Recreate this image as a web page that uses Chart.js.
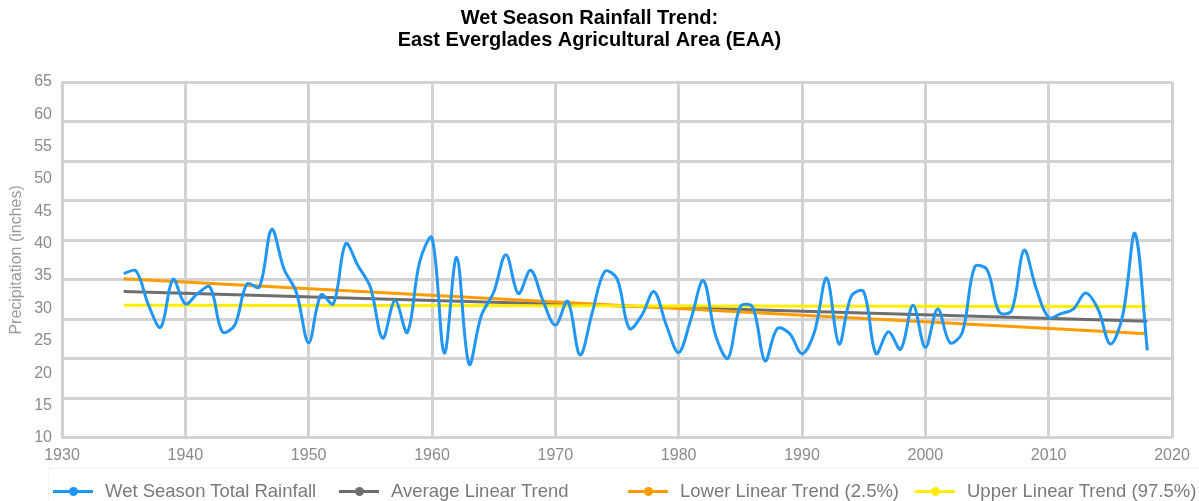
<!DOCTYPE html>
<html>
<head>
<meta charset="utf-8">
<title>Wet Season Rainfall Trend</title>
<script src="https://cdn.jsdelivr.net/npm/chart.js@4.4.1/dist/chart.umd.min.js"></script>
<style>
    body { margin: 0; background: #fff; font-family: Arial, "Liberation Sans", sans-serif; }
    #wrap { position: relative; width: 1199px; height: 501px; overflow: hidden; }
    #chartBox { position: absolute; left: 0; top: 0; width: 1199px; height: 479px; }
    #legend {
        position: absolute; left: 48px; top: 468px; right: 0; height: 40px;
        border: 1px solid #f3f3f3; border-right: none; border-bottom: none;
    }
    .item { position: absolute; top: 10px; height: 24px; display: flex; align-items: center; }
    .mark { position: relative; width: 40px; height: 3px; margin-right: 12px; }
    .mark span {
        position: absolute; left: 16px; top: -3px; width: 9px; height: 9px; border-radius: 50%;
    }
    .item label { font-size: 18.5px; color: #7a7a7a; white-space: nowrap; }
</style>
</head>
<body>
<div id="wrap">
    <div id="chartBox"><canvas id="chart"></canvas></div>
    <div id="legend"></div>
</div>
<script>
// Wet season total rainfall, East EAA, 1935-2018 (inches)
const firstYear = 1935;
const rainfall = [
    35.4, 35.8, 30.6, 27.1, 34.5, 30.7, 32.3, 33.3, 26.4, 27.4,   // 1935-1944
    33.8, 33.3, 42.2, 36.1, 32.5, 24.7, 32.1, 30.7, 40.0, 36.6,   // 1945-1954
    33.3, 25.4, 31.2, 26.3, 37.2, 40.9, 23.1, 37.9, 21.4, 28.9,   // 1955-1964
    32.5, 38.3, 32.3, 35.9, 31.2, 27.4, 31.1, 22.8, 29.4, 35.7,   // 1965-1974
    34.6, 26.9, 28.9, 32.6, 27.4, 23.2, 28.4, 34.3, 25.8, 22.3,   // 1975-1984
    30.3, 30.2, 21.9, 26.9, 26.1, 23.0, 26.3, 34.7, 24.5, 31.9,   // 1985-1994
    32.6, 23.0, 26.4, 23.7, 30.5, 24.0, 29.9, 24.7, 26.3, 36.4,   // 1995-2004
    36.0, 29.4, 29.7, 39.0, 33.0, 28.6, 29.2, 29.9, 32.4, 29.9,   // 2005-2014
    24.5, 28.9, 41.6, 23.5                                        // 2015-2018
];
const years = rainfall.map((v, i) => firstYear + i);

// Trend lines: end points only
const trendYears = [1935, 2018];
const averageTrend = [32.6, 28.0];
const lowerTrend = [34.6, 26.1];
const upperTrend = [30.5, 30.3];

const seriesNames = [
    'Wet Season Total Rainfall',
    'Average Linear Trend',
    'Lower Linear Trend (2.5%)',
    'Upper Linear Trend (97.5%)'
];
const seriesColors = ['#2196f3', '#6e6e6e', '#ff9c00', '#ffee00'];

const titleLines = ['Wet Season Rainfall Trend:', 'East Everglades Agricultural Area (EAA)'];
const yTitle = 'Precipitation (inches)';

function points(xs, ys) {
    return xs.map((x, i) => ({ x: x, y: ys[i] }));
}

function lineSet(idx, xs, ys, order) {
    return {
        label: seriesNames[idx],
        data: points(xs, ys),
        borderColor: seriesColors[idx],
        backgroundColor: seriesColors[idx],
        borderWidth: 3,
        pointRadius: 0,
        order: order,
        yAxisID: 'y'
    };
}

const tickColor = '#8a8a8a';
const gridColor = '#d2d2d2';

const blue = lineSet(0, years, rainfall, 0);
blue.tension = 0.35;

new Chart(document.getElementById('chart'), {
    type: 'line',
    data: {
        datasets: [
            blue,
            lineSet(1, trendYears, averageTrend, 3),
            lineSet(2, trendYears, lowerTrend, 2),
            lineSet(3, trendYears, upperTrend, 1)
        ]
    },
    options: {
        responsive: true,
        maintainAspectRatio: false,
        animation: false,
        layout: { padding: { left: 7, right: 27, top: 0, bottom: 6 } },
        plugins: {
            legend: { display: false },
            tooltip: { enabled: false },
            title: {
                display: true,
                text: titleLines,
                color: '#000',
                font: { family: 'Arial', size: 20, weight: 'bold', lineHeight: 1.1 },
                padding: { top: 7, bottom: 31 }
            }
        },
        scales: {
            x: {
                type: 'linear',
                min: 1930,
                max: 2020,
                ticks: {
                    stepSize: 10,
                    color: tickColor,
                    padding: 8,
                    font: { family: 'Arial', size: 16 },
                    callback: (v) => String(v)
                },
                grid: { color: gridColor, lineWidth: 3, drawTicks: false },
                border: { display: false }
            },
            y: {
                position: 'left',
                min: 10,
                max: 65,
                afterFit: (axis) => { axis.width = 55; },
                ticks: {
                    stepSize: 5,
                    color: tickColor,
                    padding: 10,
                    font: { family: 'Arial', size: 16 }
                },
                grid: { display: false, drawTicks: false },
                border: { display: false },
                title: {
                    display: true,
                    text: yTitle,
                    color: '#9a9a9a',
                    font: { family: 'Arial', size: 16 },
                    padding: { top: 0, bottom: 8 }
                }
            },
            // horizontal gridlines of the original run on their own 9-step spacing
            grid9: {
                position: 'right',
                min: 0,
                max: 9,
                ticks: { display: false, stepSize: 1 },
                grid: { color: gridColor, lineWidth: 3, drawTicks: false },
                border: { display: false }
            }
        }
    }
});

// HTML legend, four fixed columns like the original
const legend = document.getElementById('legend');
const columnLeft = [4, 290, 579, 866];
seriesNames.forEach((name, i) => {
    const item = document.createElement('div');
    item.className = 'item';
    item.style.left = columnLeft[i] + 'px';
    item.innerHTML = `<div class="mark" style="background:${seriesColors[i]}">` +
        `<span style="background:${seriesColors[i]}"></span></div><label>${name}</label>`;
    legend.appendChild(item);
});
</script>
</body>
</html>
